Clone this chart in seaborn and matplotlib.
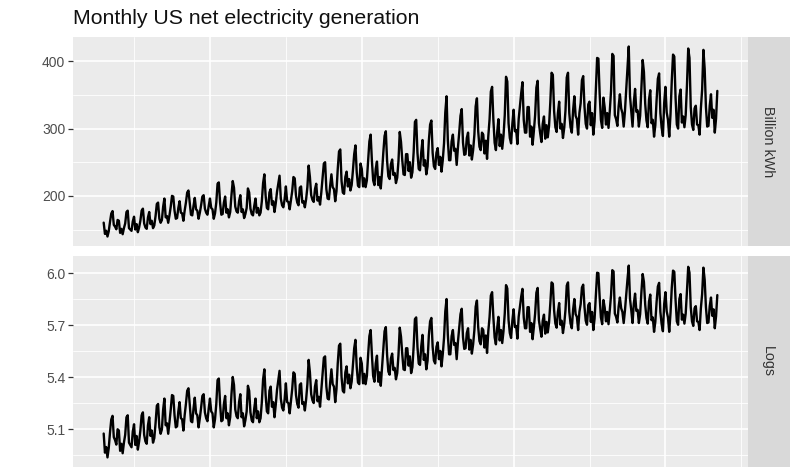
import numpy as np
import pandas as pd
import matplotlib
matplotlib.use("Agg")
from matplotlib import pyplot as plt
from matplotlib.ticker import MultipleLocator, FormatStrFormatter
import seaborn as sns

# monthly US net electricity generation, billion kWh, Jan 1973 - Jun 2013
start_year = 1973
usmelec = [
    160.2, 143.5, 148.2, 139.6, 147.4, 161.2, 173.7, 177.4, 156.9, 154.2, 150.3, 164.2,  # 1973
    163, 145, 151, 143, 152, 159, 176, 178, 152, 150, 148, 162,  # 1974
    169, 150, 158, 146, 153, 163, 178, 181, 159, 153, 151, 168,  # 1975
    176, 158, 163, 152, 156, 170, 188, 190, 166, 160, 164, 184,  # 1976
    196, 168, 170, 160, 171, 184, 200, 199, 178, 166, 167, 182,  # 1977
    192, 175, 174, 163, 178, 190, 205, 208, 190, 172, 171, 185,  # 1978
    197, 180, 178, 166, 175, 186, 199, 201, 181, 175, 172, 185,  # 1979
    196, 182, 180, 166, 174, 190, 218, 220, 190, 172, 173, 190,  # 1980
    199, 175, 180, 168, 176, 201, 222, 212, 184, 177, 175, 192,  # 1981
    201, 176, 180, 167, 173, 182, 211, 205, 181, 173, 171, 185,  # 1982
    196, 175, 182, 171, 175, 192, 219, 232, 200, 182, 180, 205,  # 1983
    210, 187, 192, 176, 189, 206, 218, 230, 196, 186, 183, 195,  # 1984
    214, 192, 191, 180, 193, 207, 228, 226, 200, 190, 186, 212,  # 1985
    214, 190, 192, 183, 195, 213, 245, 228, 201, 194, 191, 210,  # 1986
    218, 193, 198, 187, 205, 226, 248, 250, 210, 196, 195, 215,  # 1987
    232, 213, 210, 192, 207, 240, 266, 269, 222, 205, 203, 228,  # 1988
    236, 214, 225, 208, 216, 238, 262, 275, 235, 215, 213, 248,  # 1989
    240, 214, 226, 213, 223, 252, 281, 291, 252, 223, 216, 240,  # 1990
    251, 216, 228, 211, 235, 264, 289, 296, 252, 229, 225, 247,  # 1991
    254, 231, 234, 219, 227, 252, 295, 280, 253, 232, 231, 262,  # 1992
    262, 237, 250, 227, 235, 265, 310, 313, 264, 240, 238, 265,  # 1993
    283, 245, 253, 232, 244, 282, 306, 312, 264, 244, 240, 264,  # 1994
    271, 246, 258, 236, 253, 278, 324, 348, 283, 253, 253, 281,  # 1995
    291, 267, 270, 246, 272, 294, 319, 329, 279, 261, 262, 286,  # 1996
    294, 260, 275, 254, 268, 291, 333, 345, 296, 273, 268, 294,  # 1997
    291, 263, 282, 255, 289, 314, 355, 362, 313, 279, 268, 294,  # 1998
    314, 274, 291, 270, 289, 320, 377, 370, 308, 286, 278, 307,  # 1999
    328, 296, 298, 277, 314, 333, 353, 369, 313, 294, 294, 332,  # 2000
    332, 288, 303, 276, 296, 320, 361, 371, 308, 293, 280, 307,  # 2001
    318, 285, 305, 287, 304, 339, 383, 380, 326, 302, 295, 323,  # 2002
    340, 300, 307, 286, 301, 327, 376, 383, 323, 302, 294, 327,  # 2003
    348, 319, 314, 291, 323, 338, 372, 378, 333, 307, 300, 336,  # 2004
    340, 305, 323, 291, 311, 357, 405, 404, 352, 313, 301, 346,  # 2005
    331, 306, 323, 301, 326, 356, 411, 408, 320, 314, 304, 333,  # 2006
    351, 330, 323, 303, 326, 357, 390, 422, 348, 326, 303, 339,  # 2007
    359, 325, 327, 303, 319, 362, 402, 384, 337, 312, 302, 343,  # 2008
    357, 308, 313, 288, 305, 342, 374, 382, 323, 301, 289, 338,  # 2009
    362, 324, 313, 288, 321, 371, 410, 407, 346, 306, 300, 348,  # 2010
    358, 309, 318, 302, 320, 364, 419, 405, 332, 306, 298, 330,  # 2011
    334, 306, 305, 291, 330, 358, 417, 389, 332, 303, 304, 334,  # 2012
    351, 316, 328, 294, 315, 356,  # 2013
]
panel_names = ["Billion kWh", "Logs"]
top_ticks = [200, 300, 400]
log_ticks = [5.1, 5.4, 5.7, 6.0]

df = pd.DataFrame({"time": start_year + np.arange(len(usmelec)) / 12,
                   "Billion kWh": usmelec})
df["Logs"] = np.log(df["Billion kWh"])
long_df = df.melt(id_vars="time", var_name="panel", value_name="value")

sns.set_theme(style="darkgrid", rc={
    "axes.facecolor": "#EBEBEB",
    "grid.color": "white",
    "axes.edgecolor": "#EBEBEB",
})
plt.rcParams["font.family"] = ["Liberation Sans", "DejaVu Sans"]

W, H = 790, 470
fig = plt.figure(figsize=(W / 100, H / 100), dpi=100)
fig.patch.set_facecolor("white")

# panel boxes in pixels: (top, bottom)
boxes = [(37, 246), (256, 467)]
left, right, strip_r = 73, 748, 790

x_lo = df["time"].min()
x_hi = df["time"].max()
xpad = (x_hi - x_lo) * 0.05

for name, (t, b), ticks in zip(panel_names, boxes, [top_ticks, log_ticks]):
    ax = fig.add_axes([left / W, 1 - b / H, (right - left) / W, (b - t) / H])
    sub = long_df[long_df["panel"] == name]
    sns.lineplot(data=sub, x="time", y="value", ax=ax, color="black",
                 linewidth=1.7, estimator=None)
    lo, hi = sub["value"].min(), sub["value"].max()
    pad = (hi - lo) * 0.05
    ax.set_ylim(lo - pad, hi + pad)
    ax.set_xlim(x_lo - xpad, x_hi + xpad)
    ax.set_yticks(ticks)
    if name == "Logs":
        ax.yaxis.set_major_formatter(FormatStrFormatter("%.1f"))
    step = ticks[1] - ticks[0]
    ax.yaxis.set_minor_locator(MultipleLocator(step / 2))
    ax.xaxis.set_major_locator(MultipleLocator(10))
    ax.xaxis.set_minor_locator(MultipleLocator(5))
    ax.grid(which="major", color="white", linewidth=1.2)
    ax.grid(which="minor", color="white", linewidth=0.6)
    ax.tick_params(axis="y", which="major", left=True, length=3.5, width=0.9,
                   color="#333333", labelcolor="#4D4D4D", labelsize=10, pad=2)
    ax.tick_params(axis="y", which="minor", left=False)
    ax.tick_params(axis="x", which="both", bottom=False, labelbottom=False)
    ax.set_xlabel("")
    ax.set_ylabel("")
    for s in ax.spines.values():
        s.set_visible(False)

    strip = fig.add_axes([right / W, 1 - b / H, (strip_r - right) / W, (b - t) / H])
    strip.set_facecolor("#D9D9D9")
    strip.set_xticks([])
    strip.set_yticks([])
    strip.grid(False)
    for s in strip.spines.values():
        s.set_visible(False)
    strip.text(0.48, 0.5, name, rotation=-90, ha="center", va="center",
               fontsize=10.3, color="#333333", transform=strip.transAxes)

fig.text(left / W, 1 - 24 / H, "Monthly US net electricity generation",
         fontsize=15.3, color="#111111", ha="left", va="baseline")

fig.savefig("out.png", dpi=100)
